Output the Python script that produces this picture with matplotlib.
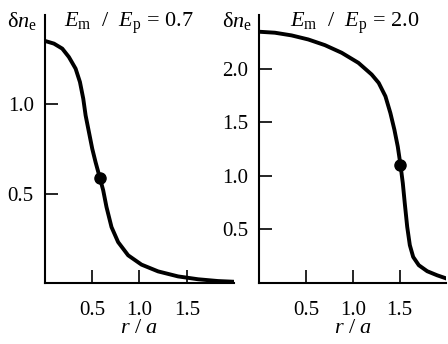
import matplotlib
matplotlib.use('Agg')
import matplotlib.pyplot as plt

# Left panel: Em/Ep = 0.7
r_left = [0.0, 0.095, 0.183, 0.253, 0.324, 0.37, 0.405, 0.43, 0.465, 0.50, 0.535,
          0.581, 0.616, 0.651, 0.704, 0.774, 0.88, 1.021, 1.197, 1.408, 1.619,
          1.83, 2.0]
dn_left = [1.355, 1.34, 1.312, 1.265, 1.20, 1.125, 1.032, 0.938, 0.845, 0.752, 0.677,
           0.588, 0.519, 0.425, 0.313, 0.229, 0.155, 0.103, 0.065, 0.037, 0.021,
           0.011, 0.007]
dot_left = (0.581, 0.588)

# Right panel: Em/Ep = 2.0
r_right = [0.0, 0.165, 0.343, 0.522, 0.70, 0.879, 1.058, 1.20, 1.275, 1.347, 1.40,
           1.443, 1.479, 1.508, 1.533, 1.554, 1.58, 1.608, 1.644, 1.704, 1.794,
           1.90, 2.0]
dn_right = [2.344, 2.335, 2.31, 2.272, 2.219, 2.148, 2.054, 1.945, 1.867, 1.742, 1.586,
            1.43, 1.273, 1.102, 0.931, 0.743, 0.524, 0.353, 0.243, 0.166, 0.11,
            0.072, 0.042]
dot_right = (1.508, 1.102)

ratios = ['0.7', '2.0']
x_ticks = [0.5, 1.0, 1.5]
y_ticks_left = [0.5, 1.0]
y_ticks_right = [0.5, 1.0, 1.5, 2.0]

plt.rcParams['font.family'] = ['Liberation Serif', 'DejaVu Serif']
plt.rcParams['mathtext.fontset'] = 'custom'
plt.rcParams['mathtext.rm'] = 'Liberation Serif'
plt.rcParams['mathtext.it'] = 'Liberation Serif:italic'

fig = plt.figure(figsize=(4.48, 3.44), dpi=100)
ax1 = fig.add_axes([0.1004, 0.1773, 0.4219, 0.779])
ax2 = fig.add_axes([0.5792, 0.1773, 0.4174, 0.779])

panels = [
    (ax1, r_left, dn_left, dot_left, y_ticks_left, 1.5, ratios[0], 0.444),
    (ax2, r_right, dn_right, dot_right, y_ticks_right, 2.5, ratios[1], 0.51),
]

for ax, r, dn, dot, yt, ytop, ratio, tx in panels:
    ax.plot(r, dn, color='black', lw=2.8, solid_joinstyle='round')
    ax.plot(dot[0], dot[1], 'o', color='black', markersize=8)
    ax.set_xlim(0, 2.0)
    ax.set_ylim(0, ytop)
    ax.spines['top'].set_visible(False)
    ax.spines['right'].set_visible(False)
    ax.spines['left'].set_linewidth(1.5)
    ax.spines['bottom'].set_linewidth(1.5)
    ax.set_xticks(x_ticks)
    ax.set_xticklabels([f'{v:.1f}' for v in x_ticks])
    ax.set_yticks(yt)
    ax.set_yticklabels([f'{v:.1f}' for v in yt])
    ax.tick_params(direction='in', length=9.5, width=1.2, labelsize=15)
    ax.tick_params(axis='x', pad=13)
    ax.tick_params(axis='y', pad=8)
    ax.set_xlabel('$r$ / $a$', fontsize=16, labelpad=-1)
    ax.text(-0.20, 0.955, 'δ$n_{\\rm e}$', transform=ax.transAxes,
            fontsize=16, ha='left', va='baseline')
    ax.text(tx, 0.955, '$E_{\\rm m}$  /  $E_{\\rm p}$ = ' + ratio,
            transform=ax.transAxes, fontsize=16, ha='center', va='baseline')

fig.savefig('out.png', dpi=100)
